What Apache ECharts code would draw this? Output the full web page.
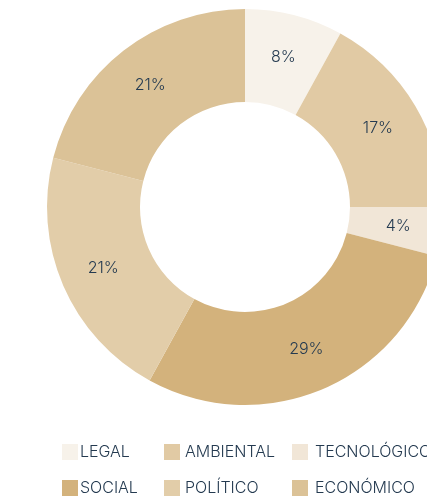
<!DOCTYPE html>
<html>
<head>
<meta charset="utf-8">
<script src="https://cdn.jsdelivr.net/npm/echarts@6/dist/echarts.min.js"></script>
<style>
  html, body { margin: 0; padding: 0; background: #fff; }
  #chart { width: 427px; height: 497px; }
</style>
</head>
<body>
<div id="chart"></div>
<script>
// Share of each factor (percent), clockwise from 12 o'clock
const categories = ['LEGAL', 'AMBIENTAL', 'TECNOLÓGICO', 'SOCIAL', 'POLÍTICO', 'ECONÓMICO'];
const values = [8, 17, 4, 29, 21, 21];
const colors = ['#F7F2EA', '#E1CAA4', '#F1E6D7', '#D3B27C', '#E2CDA9', '#DBC297'];

// Legend columns (top row / bottom row)
const legendColumns = [
  ['LEGAL', 'SOCIAL'],
  ['AMBIENTAL', 'POLÍTICO'],
  ['TECNOLÓGICO', 'ECONÓMICO']
];
const legendLefts = [62, 164, 292];
const legendTextShift = [-3, 0, 2];

const textColor = '#243A50';
const fontFamily = 'Inter, Roboto, "Liberation Sans", Arial, sans-serif';

const chart = echarts.init(document.getElementById('chart'));

chart.setOption({
  animation: false,
  color: colors,
  legend: legendColumns.map((items, i) => ({
    data: items,
    orient: 'vertical',
    left: legendLefts[i],
    top: 444,
    itemWidth: 16,
    itemHeight: 16,
    itemGap: 20,
    icon: 'rect',
    padding: 0,
    selectedMode: false,
    textStyle: {
      color: textColor,
      fontSize: 16,
      fontWeight: 300,
      fontFamily: fontFamily,
      padding: [2, 0, 0, legendTextShift[i]]
    }
  })),
  series: [{
    type: 'pie',
    center: [245, 207],
    radius: [105, 198],
    startAngle: 90,
    clockwise: true,
    avoidLabelOverlap: false,
    itemStyle: { borderWidth: 0 },
    label: {
      show: true,
      position: 'inside',
      formatter: '{c}%',
      color: textColor,
      fontSize: 16,
      fontWeight: 300,
      fontFamily: fontFamily,
      padding: [8, 0, 0, 0]
    },
    labelLine: { show: false },
    emphasis: { disabled: true },
    data: categories.map((name, i) => ({ name: name, value: values[i] }))
  }]
});
</script>
</body>
</html>
